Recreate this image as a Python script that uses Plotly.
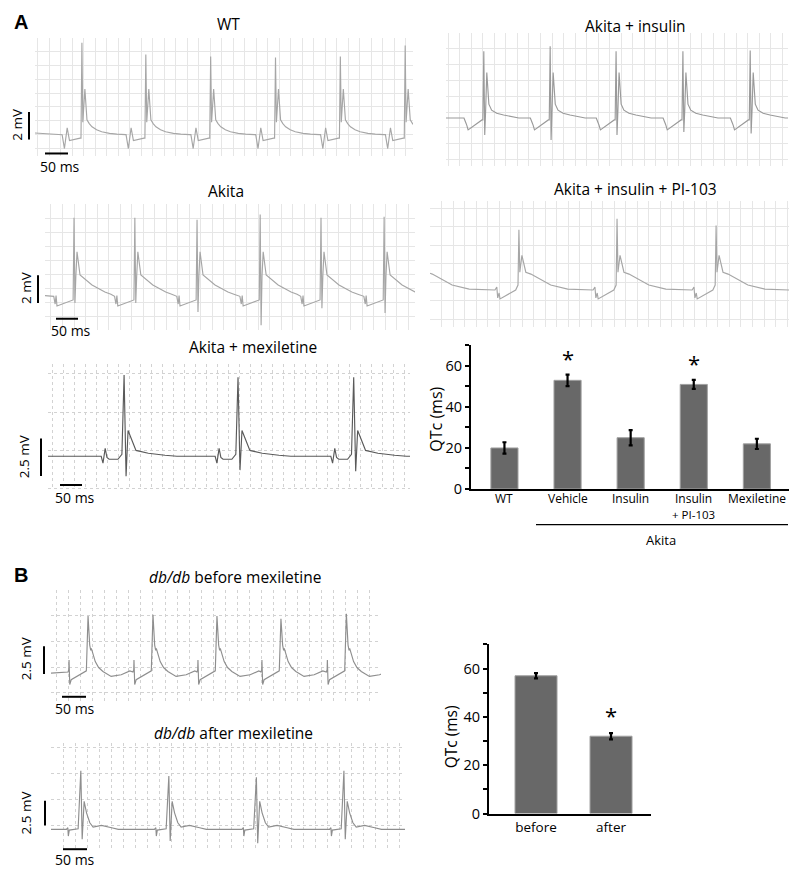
import plotly.graph_objects as go

# ---------------- DATA ----------------
# ECG beat templates: time offsets (ms) relative to R peak, amplitude (mV); "R"/"S" are per-beat values
WT_T = [-43, -38, -32, -27, -4, -2, 0, 2, 6.5, 11, 16, 22, 32, 43, 60, 76, 95]
WT_V = [0, -1.0, 0.5, -0.43, -0.25, -0.25, "R", 0.9, 3.29, 1.07, 0.8, 0.57, 0.35, 0.21, 0.1, 0.04, 0]
WT_BEATS = [102, 241, 382, 523, 664, 805]
WT_R = [6.64, 5.79, 5.64, 5.57, 5.64, 6.43]
WT_START = 0.12

INS_T = [-43, -39, -37, -34, -4, -2, 0, 2, 4, 6.5, 11, 17, 28, 43, 76]
INS_V = [0, -0.3, -0.45, -0.75, -0.12, -0.12, "R", "S", 0.5, 2.88, 0.88, 0.5, 0.3, 0.19, 0]
INS_BEATS = [82, 226, 369, 514, 660]
INS_R = [4.23, 4.54, 4.23, 4.23, 4.27]
INS_S = [-1.08, -1.39, -1.08, -0.88, -0.98]
INS_START = 0.0

AK_T = [-44, -41, -39, -37, -2, 0, 2, 4, 6.5, 13, 39, 67, 80]
AK_V = [0.05, -0.5, 0.1, -0.64, -0.21, "R", "S", 1.5, 3.21, 1.57, 0.86, 0.36, 0.2]
AK_BEATS = [63, 195, 330, 467, 599, 736]
AK_R = [5.64, 5.64, 5.5, 5.86, 5.64, 5.71]
AK_S = [-0.43, -0.43, -1.07, -2.0, -0.79, -1.14]
AK_START = 0.1

PI_T = [-52, -48, -46, -43, -41, -7, -2, 0, 2, 6.5, 15, 26, 69, 106]
PI_V = [0, 0.16, -0.43, -0.16, -0.48, 0, 0.27, "R", 0.96, 1.87, 0.96, 0.86, 0.27, 0.05]
PI_BEATS = [-21, 193, 406, 621, 834]
PI_R = [3.3, 3.26, 3.85, 3.48, 3.4]
PI_START = 1.1

MEX_T = [-52, -48, -43, -39, -34, -14, -5, 0, 4.5, 9, 16, 27, 55, 93, 120]
MEX_V = [0, -0.46, 0.53, -0.07, -0.2, -0.2, 0.13, "R", "S", 1.71, 1.2, 0.39, 0.2, 0.07, 0]
MEX_BEATS = [173, 432, 695]
MEX_R = [5.4, 5.26, 5.26]
MEX_S = [-1.32, -0.92, -0.99]
MEX_START = 0.0

DBB_T = [-41.6, -40, -39.5, -38, -35, -3.5, 0, 3.5, 5.6, 6.9, 15, 22, 31, 48, 69, 87]
DBB_V = [0.1, 0.3, 1.19, -1.04, -0.6, 0.2, "R", 2.53, 2.05, 2.23, 1.04, 0.5, 0.15, -0.3, -0.15, 0.2]
DBB_BEATS = [77, 212, 345, 478, 614]
DBB_R = [5.15, 5.27, 5.15, 4.91, 5.36]
DBB_START = 0.0

DBA_T = [-30, -27, -26, -24, -5.6, 0, 2.8, 6.9, 11.9, 18.7, 25.6, 43, 64, 78]
DBA_V = [0, 0.17, -0.67, -0.07, 0.07, "R", "S", 2.83, 1.67, 0.67, 0.23, 0.4, 0.17, 0]
DBA_BEATS = [62, 245, 427, 609]
DBA_R = [5.93, 5.4, 5.27, 5.93]
DBA_S = [-1.0, -1.17, -1.4, -1.0]
DBA_START = 0.0

# Bar charts
CATS_A = ["WT", "Vehicle", "Insulin", "Insulin", "Mexiletine"]
CAT_A_SUB = ["", "", "", "+ PI-103", ""]
QTC_A = [20, 53, 25, 51, 22]
ERR_A = [2.8, 2.8, 3.7, 2.2, 2.5]
SIG_A = [False, True, False, True, False]

CATS_B = ["before", "after"]
QTC_B = [57, 32]
ERR_B = [1.1, 1.3]
SIG_B = [False, True]

YTICKS = [0, 20, 40, 60]
YMINOR = [10, 30, 50, 70]

# ---------------- LAYOUT HELPERS ----------------
W, H = 797, 869
FONT = "Open Sans"


def fx(p):
    return p / W


def fy(p):
    return 1 - p / H


def build(beats, T, V, R=None, S=None, start=0.0, xmax=None):
    xs, ys = [0.0], [start]
    for k, b in enumerate(beats):
        for t, v in zip(T, V):
            if v == "R":
                v = R[k]
            elif v == "S":
                v = S[k]
            xs.append(b + t)
            ys.append(v)
    if xmax is not None and xs[-1] < xmax:
        xs.append(xmax)
        ys.append(0.0)
    return xs, ys


fig = go.Figure()
layout = dict(
    width=W, height=H, margin=dict(l=0, r=0, t=0, b=0),
    paper_bgcolor="white", plot_bgcolor="white", showlegend=False,
    font=dict(family=FONT, color="black"),
)
annotations = []
shapes = []

ecg = [
    dict(T=WT_T, V=WT_V, beats=WT_BEATS, R=WT_R, S=None, start=WT_START,
         box=(27, 405, 30, 150), xr=822, yr=(-1.57, 7.0), xt0=6.5, yt0=0, ydt=1,
         color="#a6a6a6", gcol="#e6e6e6", gdash="solid"),
    dict(T=INS_T, V=INS_V, beats=INS_BEATS, R=INS_R, S=INS_S, start=INS_START,
         box=(438, 780, 25, 160), xr=742, yr=(-3.06, 5.4), xt0=5, yt0=0.375, ydt=1,
         color="#9a9a9a", gcol="#e6e6e6", gdash="solid"),
    dict(T=AK_T, V=AK_V, beats=AK_BEATS, R=AK_R, S=AK_S, start=AK_START,
         box=(37, 407, 198, 325), xr=803, yr=(-2.32, 6.62), xt0=13, yt0=-0.42, ydt=1,
         color="#a6a6a6", gcol="#e6e6e6", gdash="solid"),
    dict(T=PI_T, V=PI_V, beats=PI_BEATS, R=PI_R, S=None, start=PI_START,
         box=(422, 797, 195, 322), xr=814, yr=(-1.98, 4.81), xt0=0, yt0=0.43, ydt=1,
         color="#a6a6a6", gcol="#e6e6e6", gdash="solid"),
    dict(T=MEX_T, V=MEX_V, beats=MEX_BEATS, R=MEX_R, S=MEX_S, start=MEX_START,
         box=(40, 402, 360, 487), xr=823, yr=(-2.24, 6.12), xt0=11, yt0=0.39, ydt=2.55,
         color="#5a5a5a", gcol="#d2d2d2", gdash="dot"),
    dict(T=DBB_T, V=DBB_V, beats=DBB_BEATS, R=DBB_R, S=None, start=DBB_START,
         box=(43, 373, 588, 703), xr=686, yr=(-2.77, 7.52), xt0=12, yt0=0.54, ydt=2.32,
         color="#8e8e8e", gcol="#d2d2d2", gdash="dot"),
    dict(T=DBA_T, V=DBA_V, beats=DBA_BEATS, R=DBA_R, S=DBA_S, start=DBA_START,
         box=(43, 397, 743, 852), xr=736, yr=(-2.2, 8.7), xt0=0, yt0=0.4, ydt=2.63,
         color="#8e8e8e", gcol="#d2d2d2", gdash="dot"),
]

for i, p in enumerate(ecg, start=1):
    sfx = "" if i == 1 else str(i)
    xs, ys = build(p["beats"], p["T"], p["V"], p["R"], p["S"], p["start"], p["xr"])
    fig.add_trace(go.Scatter(x=xs, y=ys, mode="lines", xaxis="x" + sfx, yaxis="y" + sfx,
                             line=dict(color=p["color"], width=1.15, simplify=False),
                             hoverinfo="skip"))
    x0, x1, y0, y1 = p["box"]
    layout["xaxis" + sfx] = dict(domain=[fx(x0), fx(x1)], range=[0, p["xr"]], anchor="y" + sfx,
                                 showgrid=True, gridcolor=p["gcol"], griddash=p["gdash"], gridwidth=1,
                                 tick0=p["xt0"], dtick=25, showticklabels=False, ticks="",
                                 zeroline=False, showline=False)
    layout["yaxis" + sfx] = dict(domain=[fy(y1), fy(y0)], range=list(p["yr"]), anchor="x" + sfx,
                                 showgrid=True, gridcolor=p["gcol"], griddash=p["gdash"], gridwidth=1,
                                 tick0=p["yt0"], dtick=p["ydt"], showticklabels=False, ticks="",
                                 zeroline=False, showline=False)

# Titles of ECG panels
titles = [
    ("WT", 220, 16), ("Akita + insulin", 627, 18), ("Akita", 218, 185),
    ("Akita + insulin + PI-103", 627, 183), ("Akita + mexiletine", 245, 343),
    ("<i>db/db</i> before mexiletine", 227, 575), ("<i>db/db</i> after mexiletine", 225, 733),
]
for txt, x, y in titles:
    annotations.append(dict(text=txt, x=fx(x), y=fy(y), xref="paper", yref="paper",
                            showarrow=False, xanchor="center", yanchor="middle",
                            font=dict(size=15.5, family=FONT, color="black")))

# Panel letters
for txt, x, y in [("A", 13, 14), ("B", 13, 573)]:
    annotations.append(dict(text="<b>%s</b>" % txt, x=fx(x), y=fy(y), xref="paper", yref="paper",
                            showarrow=False, xanchor="center", yanchor="middle",
                            font=dict(size=20, family="Liberation Sans", color="black")))

# Scale bars
scales = [
    (21, 105, 133, "2 mV", 9, 118, 37, 60, 147, 52, 160),
    (30, 270, 298, "2 mV", 18, 283, 48, 70, 314, 63, 326),
    (33, 435, 473, "2.5 mV", 16, 453, 52, 74, 482, 67, 495),
    (36, 645, 673, "2.5 mV", 18, 657, 54, 78, 696, 67, 708),
    (37, 801, 826, "2.5 mV", 18, 813, 55, 79, 850, 67, 860),
]
for (vx, vy0, vy1, vl, vlx, vly, hx0, hx1, hy, hlx, hly) in scales:
    shapes.append(dict(type="line", xref="paper", yref="paper", x0=fx(vx), x1=fx(vx),
                       y0=fy(vy0), y1=fy(vy1), line=dict(color="black", width=2)))
    shapes.append(dict(type="line", xref="paper", yref="paper", x0=fx(hx0), x1=fx(hx1),
                       y0=fy(hy), y1=fy(hy), line=dict(color="black", width=2)))
    annotations.append(dict(text=vl, x=fx(vlx), y=fy(vly), xref="paper", yref="paper", textangle=-90,
                            showarrow=False, xanchor="center", yanchor="middle",
                            font=dict(size=13.5, family=FONT, color="black")))
    annotations.append(dict(text="50 ms", x=fx(hlx), y=fy(hly), xref="paper", yref="paper",
                            showarrow=False, xanchor="center", yanchor="middle",
                            font=dict(size=14, family=FONT, color="black")))

# ---------------- BAR CHART A ----------------
bar_style = dict(color="#686868", line=dict(color="#a0a0a0", width=1))
fig.add_trace(go.Bar(x=list(range(len(CATS_A))), y=QTC_A, width=0.43, marker=bar_style,
                     error_y=dict(type="data", array=ERR_A, color="black", thickness=2.2, width=2),
                     xaxis="x8", yaxis="y8", hoverinfo="skip"))
layout["xaxis8"] = dict(domain=[fx(463), fx(788)], range=[-0.53, 4.62], anchor="y8",
                        tickvals=list(range(len(CATS_A))), showticklabels=False, ticks="",
                        showline=True, linecolor="black", linewidth=2, showgrid=False, zeroline=False)
layout["yaxis8"] = dict(domain=[fy(486), fy(341)], range=[0, 70], anchor="x8",
                        tickvals=YTICKS, ticks="outside", ticklen=4, tickwidth=1.5, tickcolor="black",
                        minor=dict(tickvals=YMINOR, ticks="outside", ticklen=4, tickwidth=1.5,
                                   tickcolor="black"),
                        showline=True, linecolor="black", linewidth=2, showgrid=False, zeroline=False,
                        tickfont=dict(size=14.5, family=FONT, color="black"))
# category labels (two-line label for Insulin + PI-103 set tightly as in the original)
for i, (cat, sub) in enumerate(zip(CATS_A, CAT_A_SUB)):
    annotations.append(dict(text=cat, x=i, y=fy(496), xref="x8", yref="paper", showarrow=False,
                            xanchor="center", yanchor="middle",
                            font=dict(size=12, family=FONT, color="black")))
    if sub:
        annotations.append(dict(text=sub, x=i, y=fy(511.5), xref="x8", yref="paper", showarrow=False,
                                xanchor="center", yanchor="middle",
                                font=dict(size=11.5, family=FONT, color="black")))
annotations.append(dict(text="QTc (ms)", x=fx(428), y=fy(416), xref="paper", yref="paper", textangle=-90,
                        showarrow=False, xanchor="center", yanchor="middle",
                        font=dict(size=16, family=FONT, color="black")))
for i, (v, e, s) in enumerate(zip(QTC_A, ERR_A, SIG_A)):
    if s:
        annotations.append(dict(text="*", x=i, y=v + e, xref="x8", yref="y8", showarrow=False,
                                xanchor="center", yanchor="middle", yshift=17,
                                font=dict(size=22, family=FONT, color="black")))
shapes.append(dict(type="line", xref="paper", yref="paper", x0=fx(528), x1=fx(780),
                   y0=fy(522), y1=fy(522), line=dict(color="black", width=1.2)))
annotations.append(dict(text="Akita", x=fx(653), y=fy(538), xref="paper", yref="paper",
                        showarrow=False, xanchor="center", yanchor="middle",
                        font=dict(size=13, family=FONT, color="black")))

# ---------------- BAR CHART B ----------------
fig.add_trace(go.Bar(x=list(range(len(CATS_B))), y=QTC_B, width=0.56, marker=bar_style,
                     error_y=dict(type="data", array=ERR_B, color="black", thickness=2.2, width=2),
                     xaxis="x9", yaxis="y9", hoverinfo="skip"))
layout["xaxis9"] = dict(domain=[fx(481), fx(643)], range=[-0.627, 1.533], anchor="y9",
                        tickvals=list(range(len(CATS_B))), ticktext=CATS_B, ticks="",
                        showline=True, linecolor="black", linewidth=2, showgrid=False, zeroline=False,
                        tickfont=dict(size=13.5, family=FONT, color="black"))
layout["yaxis9"] = dict(domain=[fy(814), fy(643)], range=[0, 70], anchor="x9",
                        tickvals=YTICKS, ticks="outside", ticklen=4, tickwidth=1.5, tickcolor="black",
                        minor=dict(tickvals=YMINOR, ticks="outside", ticklen=4, tickwidth=1.5,
                                   tickcolor="black"),
                        showline=True, linecolor="black", linewidth=2, showgrid=False, zeroline=False,
                        tickfont=dict(size=14.5, family=FONT, color="black"))
annotations.append(dict(text="QTc (ms)", x=fx(443), y=fy(737), xref="paper", yref="paper", textangle=-90,
                        showarrow=False, xanchor="center", yanchor="middle",
                        font=dict(size=15.5, family=FONT, color="black")))
for i, (v, e, s) in enumerate(zip(QTC_B, ERR_B, SIG_B)):
    if s:
        annotations.append(dict(text="*", x=i, y=v + e, xref="x9", yref="y9", showarrow=False,
                                xanchor="center", yanchor="middle", yshift=18,
                                font=dict(size=22, family=FONT, color="black")))

layout["annotations"] = annotations
layout["shapes"] = shapes
fig.update_layout(**layout)
fig.write_html("out.html")
